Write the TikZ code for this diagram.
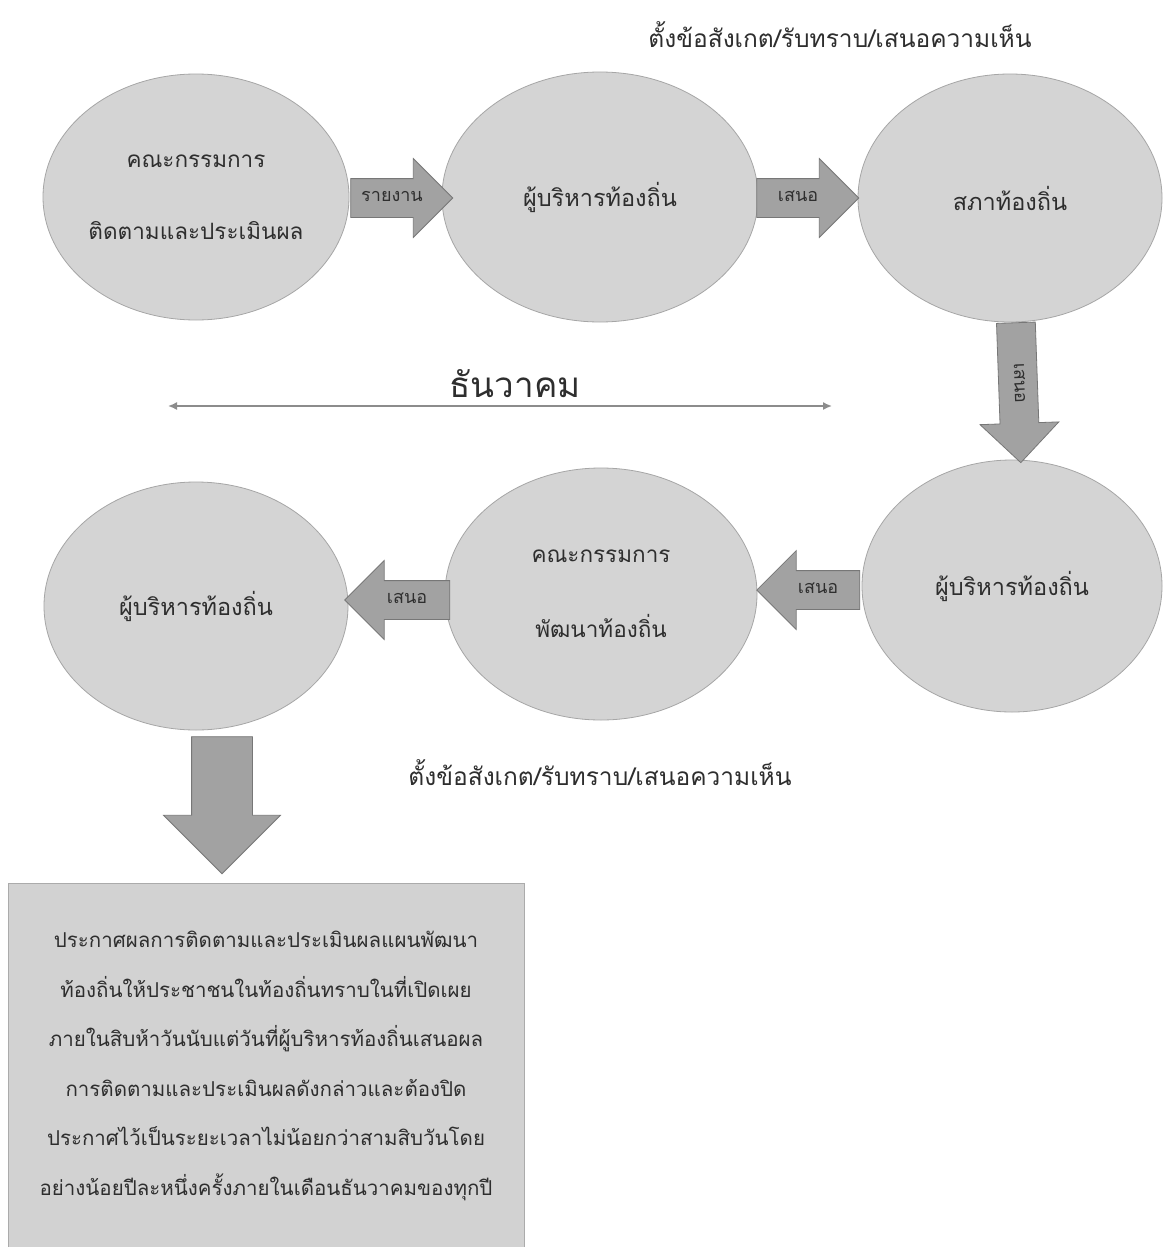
\documentclass[tikz,border=0pt]{standalone}
\usepackage{fontspec}
\setmainfont[Script=Thai]{Loma}
\usetikzlibrary{shapes.arrows,shapes.geometric,arrows.meta}
\definecolor{ellfill}{HTML}{D4D4D4}
\definecolor{ellline}{HTML}{A6A6A6}
\definecolor{arrfill}{HTML}{A2A2A2}
\definecolor{arrline}{HTML}{777777}
\definecolor{boxfill}{HTML}{D2D2D2}
\definecolor{boxline}{HTML}{ABABAB}
\definecolor{txt}{HTML}{2E2E2E}
\definecolor{lineg}{HTML}{8C8C8C}
\tikzset{
  stage/.style={ellipse, draw=ellline, fill=ellfill, line width=0.8pt, text=txt, align=center, inner sep=0pt},
  blockarrow/.style={single arrow, draw=arrline, fill=arrfill, line width=0.8pt, text=txt,
     single arrow head extend=20pt, inner xsep=2pt, inner ysep=12.5pt, text height=10pt, text depth=3pt,
     font=\fontsize{18}{20}\selectfont},
  note/.style={text=txt, font=\fontsize{24.5}{28}\selectfont},
}
\begin{document}
\begin{tikzpicture}[x=1pt,y=-1pt]
\useasboundingbox (0,0) rectangle (1166,1247);
\fill[white] (0,0) rectangle (1166,1247);

% top label
\node[note] (topnote) at (840,35) {ตั้งข้อสังเกต/รับทราบ/เสนอความเห็น};

% ellipses row 1
\node[stage, minimum width=306pt, minimum height=246pt, font=\fontsize{22.5}{72}\selectfont] (e1) at (196,197) {คณะกรรมการ\\ติดตามและประเมินผล};
\node[stage, minimum width=316pt, minimum height=250pt, font=\fontsize{23.5}{24}\selectfont] (e2) at (600,197) {ผู้บริหารท้องถิ่น};
\node[stage, minimum width=304pt, minimum height=248pt, font=\fontsize{23.5}{24}\selectfont] (e3) at (1010,198) {สภาท้องถิ่น};

% ellipses row 2
\node[stage, minimum width=300pt, minimum height=252pt, font=\fontsize{23.5}{24}\selectfont] (e4) at (1012,586) {ผู้บริหารท้องถิ่น};
\node[stage, minimum width=312pt, minimum height=252pt, font=\fontsize{22.5}{75}\selectfont] (e5) at (601,594) {คณะกรรมการ\\พัฒนาท้องถิ่น};
\node[stage, minimum width=304pt, minimum height=248pt, font=\fontsize{23.5}{24}\selectfont] (e6) at (196,606) {ผู้บริหารท้องถิ่น};

% block arrows
\node[blockarrow, minimum height=102pt] (a1) at (392,198) {รายงาน};
\node[blockarrow, minimum height=102pt] (a2) at (798,198) {เสนอ};
\node[blockarrow, minimum height=140pt, rotate=-88] (a3) at (1018,383) {เสนอ};
\node[blockarrow, minimum height=103pt, shape border rotate=180] (a4) at (818,590) {เสนอ};
\node[blockarrow, minimum height=105pt, shape border rotate=180] (a5) at (407,600) {เสนอ};
\node[single arrow, draw=arrline, fill=arrfill, line width=0.8pt, inner xsep=0pt, inner ysep=30pt,
      text height=0pt, text depth=0pt, single arrow head extend=28pt, minimum height=137pt, rotate=-90] (a6) at (222,790) {};

% month line
\node[text=txt, font=\fontsize{35}{38}\selectfont] (month) at (515,384) {ธันวาคม};
\coordinate (ml) at (168,406);
\coordinate (mr) at (832,406);
\draw[lineg, line width=1.6pt, {Latex[length=9pt,width=8pt]}-{Latex[length=9pt,width=8pt]}] (ml) -- (mr);

% bottom label
\node[note] (botnote) at (600,773) {ตั้งข้อสังเกต/รับทราบ/เสนอความเห็น};

% announcement box
\draw[boxline, fill=boxfill, line width=1pt] (8,883) rectangle (524,1252);
\node[text=txt, align=center, font=\fontsize{20.5}{49.6}\selectfont] (ann) at (266,1066)
 {ประกาศผลการติดตามและประเมินผลแผนพัฒนา\\
  ท้องถิ่นให้ประชาชนในท้องถิ่นทราบในที่เปิดเผย\\
  ภายในสิบห้าวันนับแต่วันที่ผู้บริหารท้องถิ่นเสนอผล\\
  การติดตามและประเมินผลดังกล่าวและต้องปิด\\
  ประกาศไว้เป็นระยะเวลาไม่น้อยกว่าสามสิบวันโดย\\
  อย่างน้อยปีละหนึ่งครั้งภายในเดือนธันวาคมของทุกปี};
\end{tikzpicture}
\end{document}
